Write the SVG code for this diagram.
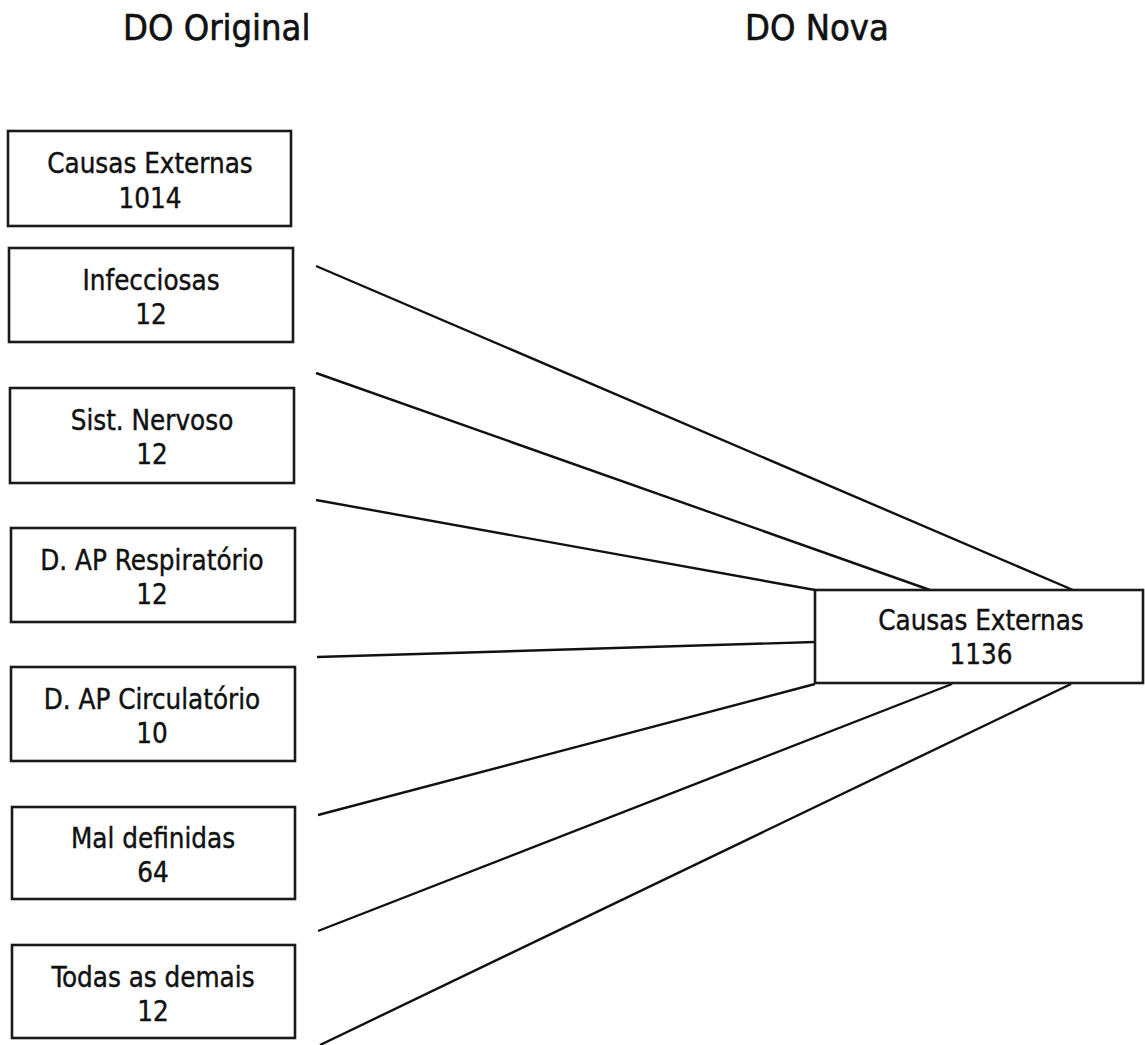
<svg xmlns="http://www.w3.org/2000/svg" width="1145" height="1045" viewBox="0 0 1145 1045">
<style>
.box{fill:#fff;stroke:#1a1a1a;stroke-width:2.6}
.t{font-family:'DejaVu Sans Condensed','DejaVu Sans',sans-serif;font-size:27.5px;fill:#111;stroke:#111;stroke-width:0.4;text-anchor:middle}
.title{font-family:'DejaVu Sans Condensed','DejaVu Sans',sans-serif;font-size:36px;fill:#111;stroke:#111;stroke-width:0.6}
.conn line{stroke:#111;stroke-width:2.4}
</style>
<rect width="1145" height="1045" fill="#fff"/>
<text class="title" x="123" y="40">DO Original</text>
<text class="title" x="745" y="40">DO Nova</text>
<g class="conn" id="connectors">
<line x1="316" y1="266" x2="1073" y2="590"/>
<line x1="316" y1="373" x2="930" y2="590"/>
<line x1="316" y1="500" x2="815" y2="590"/>
<line x1="317" y1="657" x2="815" y2="642"/>
<line x1="318" y1="815" x2="815" y2="684"/>
<line x1="318" y1="931" x2="952" y2="684"/>
<line x1="320" y1="1045" x2="1071" y2="684"/>
</g>
<g id="n1"><rect class="box" x="8" y="131" width="283" height="95"/><text class="t" x="150" y="173">Causas Externas</text><text class="t" x="150" y="208">1014</text></g>
<g id="n2"><rect class="box" x="9" y="248" width="284" height="94"/><text class="t" x="151" y="290">Infecciosas</text><text class="t" x="151" y="324">12</text></g>
<g id="n3"><rect class="box" x="10" y="388" width="284" height="95"/><text class="t" x="152" y="430">Sist. Nervoso</text><text class="t" x="152" y="464">12</text></g>
<g id="n4"><rect class="box" x="11" y="528" width="284" height="94"/><text class="t" x="152" y="570">D. AP Respiratório</text><text class="t" x="152" y="604">12</text></g>
<g id="n5"><rect class="box" x="11" y="667" width="284" height="94"/><text class="t" x="152" y="709">D. AP Circulatório</text><text class="t" x="152" y="743">10</text></g>
<g id="n6"><rect class="box" x="12" y="807" width="283" height="92"/><text class="t" x="153" y="848">Mal definidas</text><text class="t" x="153" y="882">64</text></g>
<g id="n7"><rect class="box" x="12" y="945" width="283" height="93"/><text class="t" x="153" y="987">Todas as demais</text><text class="t" x="153" y="1021">12</text></g>
<g id="n8"><rect class="box" x="815" y="590" width="328" height="93"/><text class="t" x="981" y="630">Causas Externas</text><text class="t" x="981" y="664">1136</text></g>
</svg>
